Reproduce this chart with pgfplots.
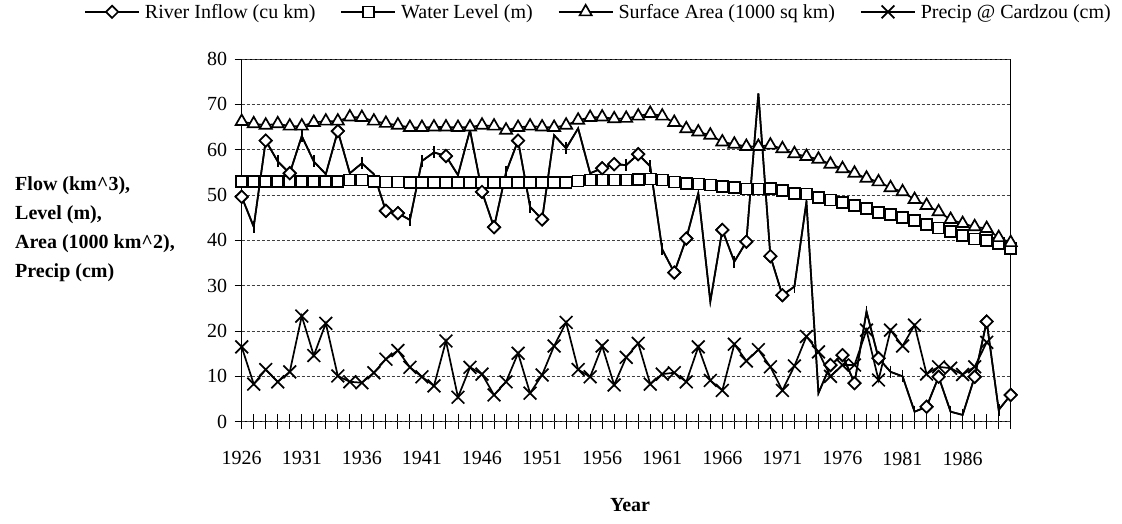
\documentclass[border=0pt]{standalone}
\usepackage{fontspec}
\setmainfont{Liberation Serif}
\usepackage{pgfplots}
\pgfplotsset{compat=1.18}
\usepackage{pgfplotstable}

\pgfplotstableread{
year R L A P
1926 49.6 53.0 66.2 16.5
1927 43.0 53.0 65.7 8.3
1928 62.0 53.0 65.4 11.5
1929 57.4 53.0 65.7 8.8
1930 54.8 53.0 65.2 11.0
1931 63.0 53.0 65.2 23.3
1932 57.4 53.0 66.0 14.6
1933 54.6 53.0 66.3 21.7
1934 64.1 53.0 66.3 10.1
1935 54.8 53.3 67.2 8.8
1936 57.0 53.3 67.1 8.6
1937 54.6 53.0 66.3 10.8
1938 46.5 52.9 65.8 13.8
1939 46.0 52.9 65.4 15.7
1940 44.5 52.8 64.9 12.0
1941 57.5 52.8 64.9 9.9
1942 59.4 52.8 65.0 7.9
1943 58.6 52.8 65.0 17.8
1944 54.4 52.8 64.9 5.4
1945 64.3 52.8 65.0 12.0
1946 50.7 52.8 65.4 10.5
1947 42.9 52.8 65.2 5.9
1948 55.0 52.8 64.3 8.8
1949 62.0 52.8 64.9 15.1
1950 47.4 52.8 65.2 6.3
1951 44.6 52.8 65.0 10.3
1952 63.2 52.8 64.9 16.7
1953 60.3 52.8 65.4 21.9
1954 64.7 53.1 66.5 11.5
1955 54.8 53.3 67.1 9.9
1956 55.9 53.3 67.2 16.7
1957 56.8 53.3 66.8 8.1
1958 56.6 53.3 66.9 14.2
1959 59.0 53.4 67.4 17.3
1960 56.3 53.5 68.0 8.3
1961 38.0 53.3 67.4 10.5
1962 32.9 52.9 66.0 10.8
1963 40.4 52.6 64.6 8.8
1964 50.4 52.4 63.9 16.5
1965 26.5 52.2 63.2 9.1
1966 42.3 51.9 61.7 6.9
1967 35.3 51.6 61.2 17.1
1968 39.7 51.3 60.7 13.4
1969 72.4 51.3 60.7 15.9
1970 36.5 51.5 61.0 12.1
1971 27.9 51.0 60.2 6.9
1972 29.8 50.4 59.1 12.3
1973 48.5 50.2 58.5 18.8
1974 6.3 49.5 57.9 15.4
1975 12.5 48.9 56.8 10.0
1976 14.7 48.3 55.8 12.5
1977 8.5 47.7 54.8 12.5
1978 24.3 47.0 53.7 20.2
1979 14.0 46.2 52.9 9.2
1980 11.0 45.7 51.6 20.2
1981 10.0 45.1 50.7 16.7
1982 2.2 44.4 49.0 21.3
1983 3.3 43.5 47.7 10.5
1984 9.9 42.7 46.3 12.1
1985 2.2 42.0 44.6 11.8
1986 1.5 41.0 43.7 10.4
1987 9.9 40.3 43.0 12.1
1988 22.1 40.0 42.6 17.5
1989 2.6 39.3 40.6 nan
1990 5.9 38.2 39.5 nan
}\data

\begin{document}
\begin{tikzpicture}[font=\fontsize{20}{24}\selectfont]
\begin{axis}[
  at={(241.7pt,101.3pt)}, anchor=south west,
  scale only axis, width=769pt, height=362.7pt,
  xmin=1926, xmax=1990, ymin=0, ymax=80,
  xtick={1926,1927,...,1990},
  xticklabels={1926,,,,,1931,,,,,1936,,,,,1941,,,,,1946,,,,,1951,,,,,1956,,,,,1961,,,,,1966,,,,,1971,,,,,1976,,,,,1981,,,,,1986,,,,},
  ytick=\empty,
  extra y ticks={0,10,...,80},
  extra y tick style={tick align=outside, major tick length=7pt, grid=major},
  tick pos=left,
  tick align=center,
  major tick length=15pt,
  tick style={black, line width=0.9pt},
  xticklabel style={yshift=-19pt},
  yticklabel style={xshift=-4pt},
  grid style={black!75, dash pattern=on 3pt off 2pt, line width=0.7pt},
  axis line style={black, line width=1pt},
  legend style={at={(0.466,1.13)}, anchor=center, draw=none, fill=none,
    font=\fontsize{20}{24}\selectfont, inner sep=0pt,
    nodes={inner xsep=5pt},
    /tikz/every even column/.append style={column sep=20pt}},
  legend columns=4,
  legend image code/.code={%
    \draw[mark=none] (0pt,0pt) -- (54pt,0pt);
    \draw plot coordinates {(27pt,0pt)};},
  /pgf/number format/.cd, 1000 sep={}, assume math mode=true,
]
\addplot[black, line width=1.7pt, mark=square*, mark size=4.3pt,
  mark options={fill=white, solid, rotate=45},
  mark indices={1,3,5,9,13,14,18,21,22,24,26,31,32,34,37,38,41,43,45,46,50,51,52,54,58,59,62,63,65}]
  table[x=year,y=R]{\data};
\addlegendentry{River Inflow (cu km)}
\addplot[black, line width=1.7pt, mark=square*, mark size=5.5pt,
  mark options={fill=white, solid}]
  table[x=year,y=L]{\data};
\addlegendentry{Water Level (m)}
\addplot[black, line width=1.7pt, mark=triangle*, mark size=7pt,
  mark options={fill=white, solid}]
  table[x=year,y=A]{\data};
\addlegendentry{Surface Area (1000 sq km)}
\addplot[black, line width=1.7pt, mark=x, mark size=9pt,
  mark options={solid}]
  table[x=year,y=P]{\data};
\addlegendentry{Precip @ Cardzou (cm)}
% river inflow redrawn on top
\addplot[black, line width=1.7pt, mark=square*, mark size=4.3pt,
  mark options={fill=white, solid, rotate=45},
  mark indices={1,3,5,9,13,14,18,21,22,24,26,31,32,34,37,38,41,43,45,46,50,51,52,54,58,59,62,63,65}, forget plot]
  table[x=year,y=R]{\data};
\addplot[only marks, black, line width=1.7pt, mark=|, mark size=6pt,
  mark indices={2,4,6,7,11,15,16,17,23,25,28,33,35,36,42,47,53,55,56,57,60,61,64}, forget plot]
  table[x=year,y=R]{\data};
\end{axis}
\node[anchor=west, align=left, font=\bfseries\fontsize{20}{29}\selectfont] at (11.7pt,294pt)
  {Flow (km\textasciicircum3),\\Level (m),\\Area (1000 km\textasciicircum2),\\Precip (cm)};
\node[font=\bfseries\fontsize{20}{24}\selectfont] at (630pt,18pt) {Year};
\pgfresetboundingbox
\path[use as bounding box] (0,0) rectangle (1122pt,523pt);
\end{tikzpicture}
\end{document}
